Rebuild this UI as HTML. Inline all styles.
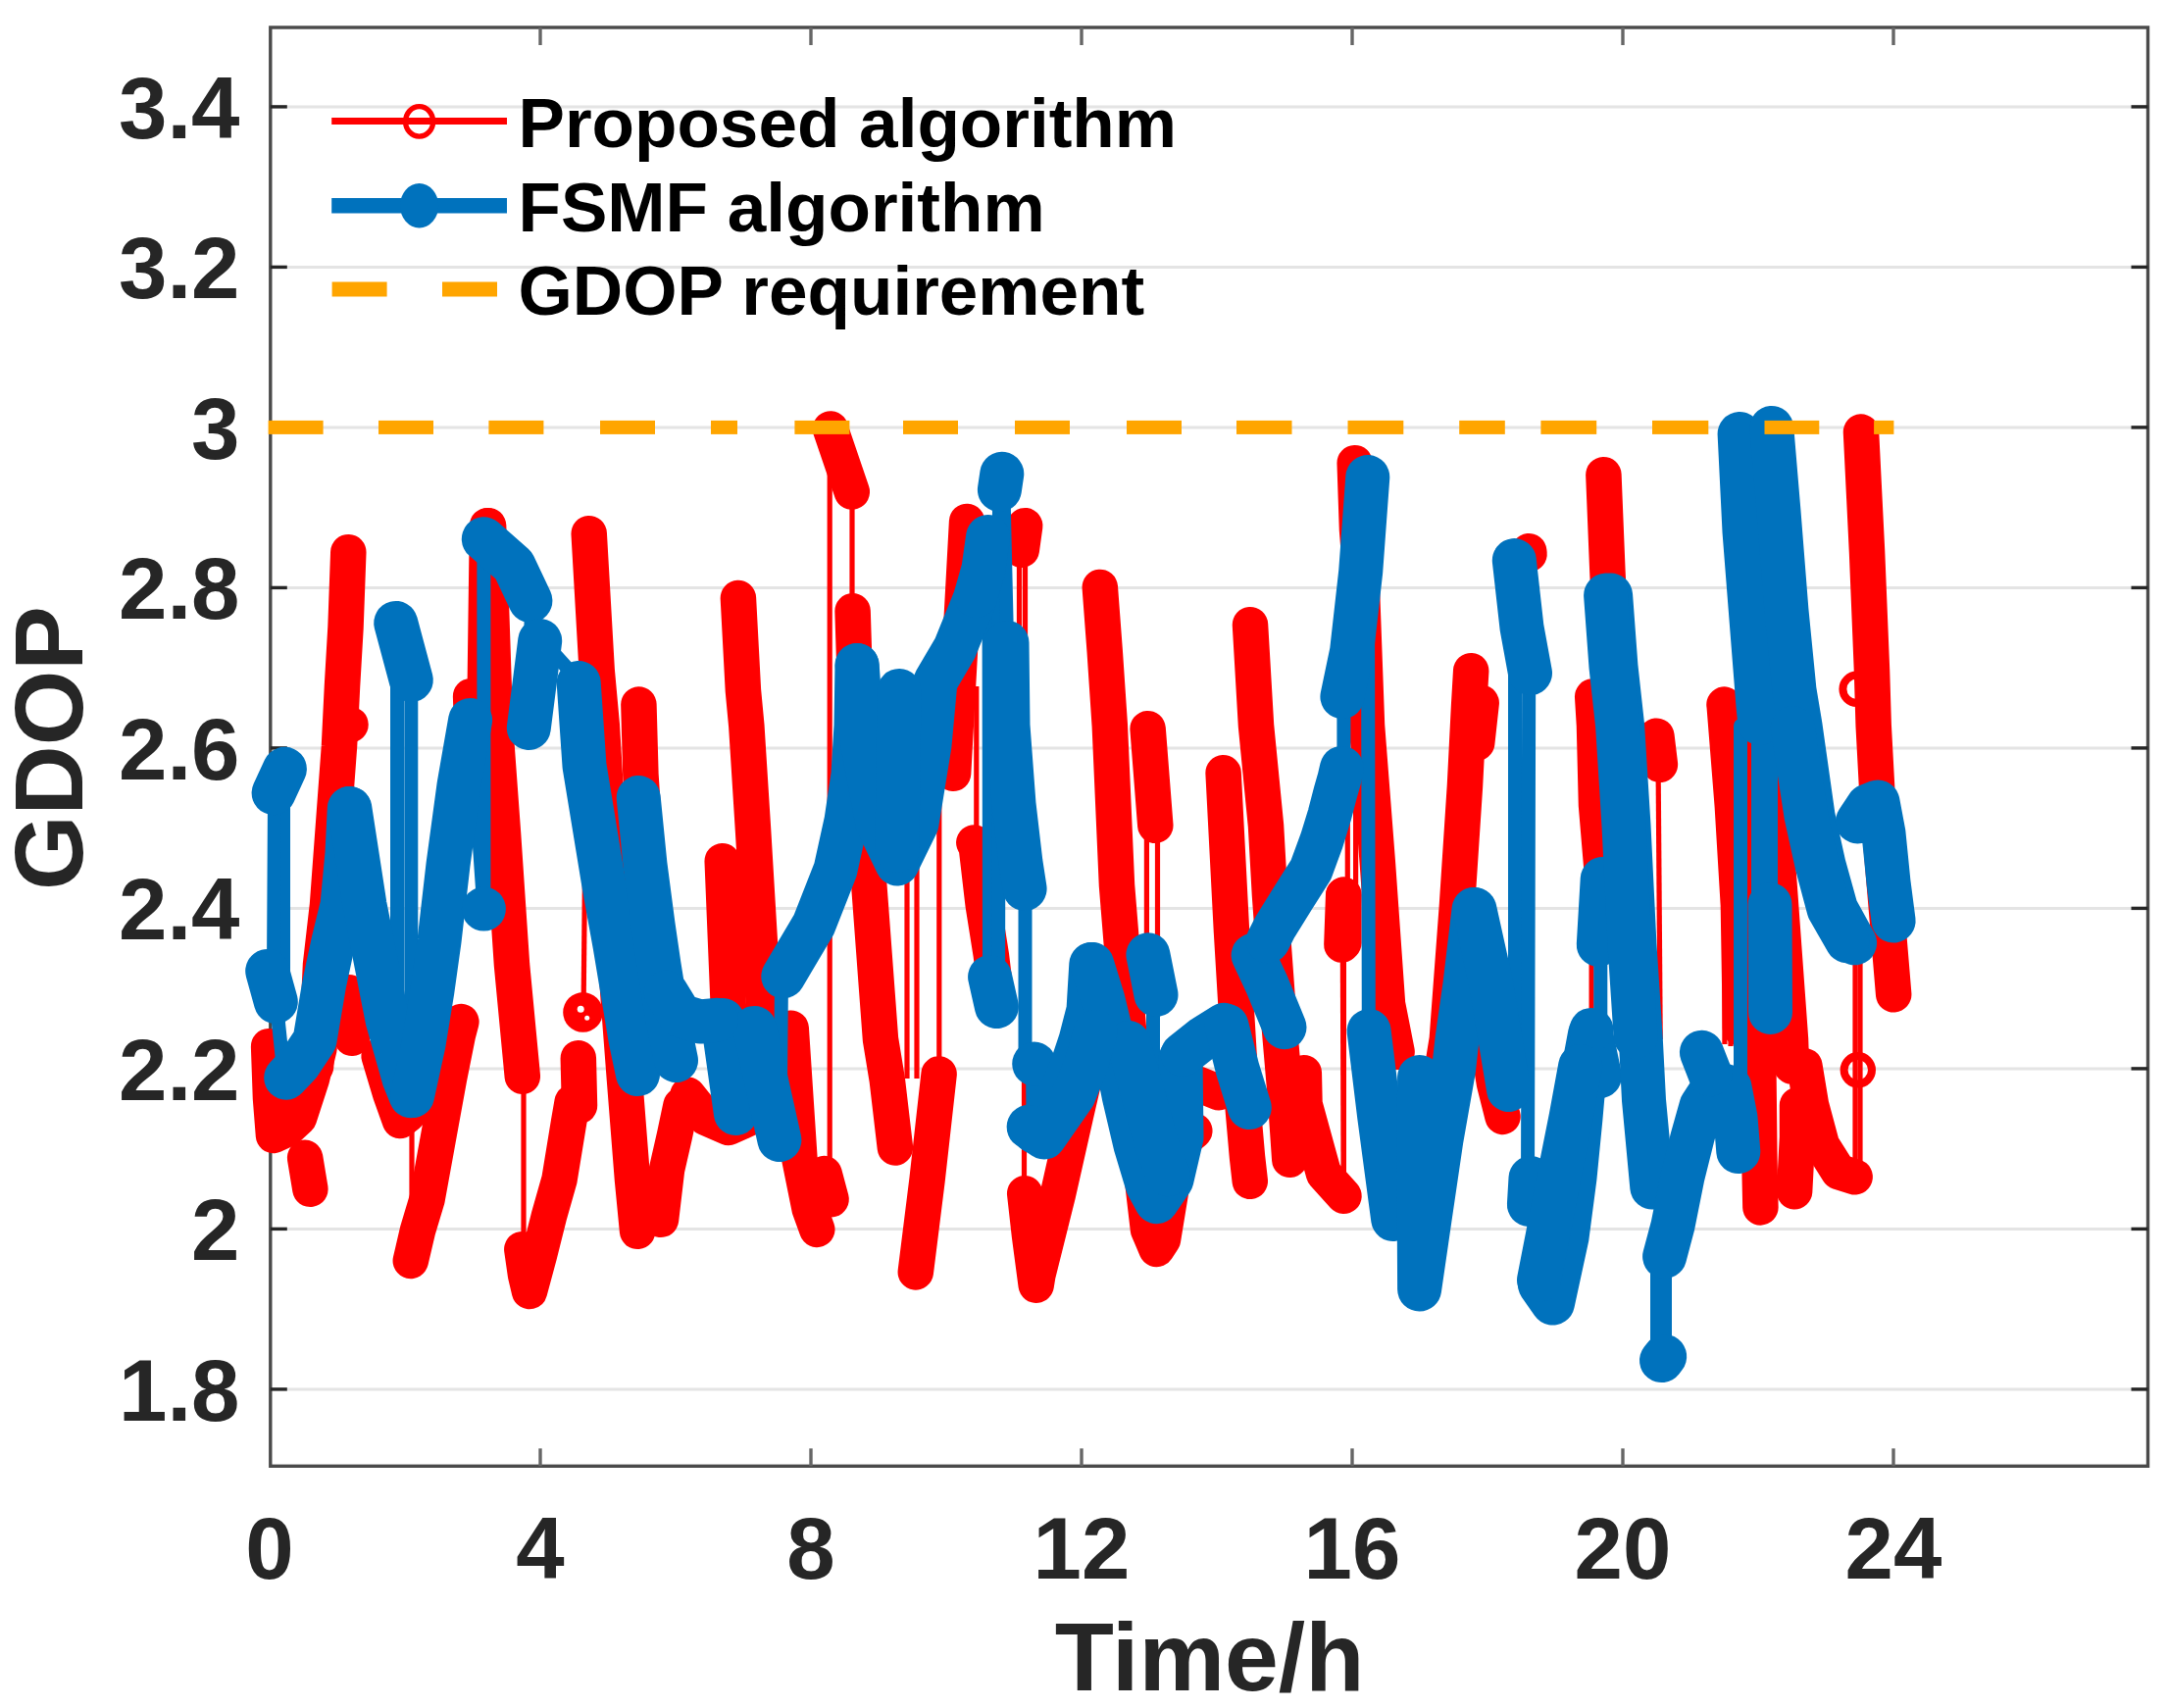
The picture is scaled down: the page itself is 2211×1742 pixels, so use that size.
<!DOCTYPE html><html><head><meta charset="utf-8"><title>GDOP</title><style>html,body{margin:0;padding:0;background:#fff}svg{display:block}text{font-family:"Liberation Sans",sans-serif;font-weight:bold}</style></head><body>
<svg width="2211" height="1742" viewBox="0 0 2211 1742">
<rect width="2211" height="1742" fill="#fff"/>
<line x1="275.8" x2="2190.5" y1="1416.9" y2="1416.9" stroke="#e4e4e4" stroke-width="3"/>
<line x1="275.8" x2="2190.5" y1="1253.4" y2="1253.4" stroke="#e4e4e4" stroke-width="3"/>
<line x1="275.8" x2="2190.5" y1="1089.9" y2="1089.9" stroke="#e4e4e4" stroke-width="3"/>
<line x1="275.8" x2="2190.5" y1="926.4" y2="926.4" stroke="#e4e4e4" stroke-width="3"/>
<line x1="275.8" x2="2190.5" y1="762.9" y2="762.9" stroke="#e4e4e4" stroke-width="3"/>
<line x1="275.8" x2="2190.5" y1="599.4" y2="599.4" stroke="#e4e4e4" stroke-width="3"/>
<line x1="275.8" x2="2190.5" y1="435.9" y2="435.9" stroke="#e4e4e4" stroke-width="3"/>
<line x1="275.8" x2="2190.5" y1="272.4" y2="272.4" stroke="#e4e4e4" stroke-width="3"/>
<line x1="275.8" x2="2190.5" y1="108.9" y2="108.9" stroke="#e4e4e4" stroke-width="3"/>
<g stroke="#4a4a4a" stroke-width="3.4" fill="none">
<rect x="275.8" y="28.0" width="1914.7" height="1467.3"/>
<line x1="551.0" x2="551.0" y1="1495.3" y2="1477.3" stroke="#666"/>
<line x1="551.0" x2="551.0" y1="28.0" y2="46.0" stroke="#666"/>
<line x1="827.0" x2="827.0" y1="1495.3" y2="1477.3" stroke="#666"/>
<line x1="827.0" x2="827.0" y1="28.0" y2="46.0" stroke="#666"/>
<line x1="1103.0" x2="1103.0" y1="1495.3" y2="1477.3" stroke="#666"/>
<line x1="1103.0" x2="1103.0" y1="28.0" y2="46.0" stroke="#666"/>
<line x1="1379.0" x2="1379.0" y1="1495.3" y2="1477.3" stroke="#666"/>
<line x1="1379.0" x2="1379.0" y1="28.0" y2="46.0" stroke="#666"/>
<line x1="1655.0" x2="1655.0" y1="1495.3" y2="1477.3" stroke="#666"/>
<line x1="1655.0" x2="1655.0" y1="28.0" y2="46.0" stroke="#666"/>
<line x1="1931.0" x2="1931.0" y1="1495.3" y2="1477.3" stroke="#666"/>
<line x1="1931.0" x2="1931.0" y1="28.0" y2="46.0" stroke="#666"/>
<line x1="275.8" x2="292.8" y1="1416.9" y2="1416.9" stroke="#262626"/>
<line x1="2190.5" x2="2173.5" y1="1416.9" y2="1416.9" stroke="#262626"/>
<line x1="275.8" x2="292.8" y1="1253.4" y2="1253.4" stroke="#262626"/>
<line x1="2190.5" x2="2173.5" y1="1253.4" y2="1253.4" stroke="#262626"/>
<line x1="275.8" x2="292.8" y1="1089.9" y2="1089.9" stroke="#262626"/>
<line x1="2190.5" x2="2173.5" y1="1089.9" y2="1089.9" stroke="#262626"/>
<line x1="275.8" x2="292.8" y1="926.4" y2="926.4" stroke="#262626"/>
<line x1="2190.5" x2="2173.5" y1="926.4" y2="926.4" stroke="#262626"/>
<line x1="275.8" x2="292.8" y1="762.9" y2="762.9" stroke="#262626"/>
<line x1="2190.5" x2="2173.5" y1="762.9" y2="762.9" stroke="#262626"/>
<line x1="275.8" x2="292.8" y1="599.4" y2="599.4" stroke="#262626"/>
<line x1="2190.5" x2="2173.5" y1="599.4" y2="599.4" stroke="#262626"/>
<line x1="275.8" x2="292.8" y1="435.9" y2="435.9" stroke="#262626"/>
<line x1="2190.5" x2="2173.5" y1="435.9" y2="435.9" stroke="#262626"/>
<line x1="275.8" x2="292.8" y1="272.4" y2="272.4" stroke="#262626"/>
<line x1="2190.5" x2="2173.5" y1="272.4" y2="272.4" stroke="#262626"/>
<line x1="275.8" x2="292.8" y1="108.9" y2="108.9" stroke="#262626"/>
<line x1="2190.5" x2="2173.5" y1="108.9" y2="108.9" stroke="#262626"/>
</g>
<g fill="none" stroke-linecap="round" stroke-linejoin="round">
<g stroke="#f00">
<polyline stroke-width="5.2" stroke-linecap="butt" points="534.0,1100.0 534.0,1272.0"/>
<polyline stroke-width="5.2" stroke-linecap="butt" points="420.0,1135.0 420.0,1288.0"/>
<polyline stroke-width="5.2" stroke-linecap="butt" points="595.0,1036.0 600.0,542.0"/>
<polyline stroke-width="5.2" stroke-linecap="butt" points="846.2,435.0 846.2,1195.0"/>
<polyline stroke-width="5.2" stroke-linecap="butt" points="869.0,503.0 869.0,621.0"/>
<polyline stroke-width="5.2" stroke-linecap="butt" points="925.0,700.0 925.0,1100.0"/>
<polyline stroke-width="5.2" stroke-linecap="butt" points="935.0,700.0 935.0,1100.0"/>
<polyline stroke-width="5.2" stroke-linecap="butt" points="957.8,700.0 957.8,1093.0"/>
<polyline stroke-width="5.2" stroke-linecap="butt" points="1039.5,563.0 1039.5,860.0"/>
<polyline stroke-width="5.2" stroke-linecap="butt" points="1045.5,534.0 1045.5,900.0"/>
<polyline stroke-width="5.2" stroke-linecap="butt" points="995.8,700.0 995.8,858.0"/>
<polyline stroke-width="5.2" stroke-linecap="butt" points="1044.5,1085.0 1044.5,1215.0"/>
<polyline stroke-width="5.2" stroke-linecap="butt" points="1169.4,844.0 1169.4,975.0"/>
<polyline stroke-width="5.2" stroke-linecap="butt" points="1180.5,844.0 1180.5,975.0"/>
<polyline stroke-width="5.2" stroke-linecap="butt" points="1369.3,966.0 1370.3,1215.0"/>
<polyline stroke-width="5.2" stroke-linecap="butt" points="1374.3,700.0 1374.3,910.0"/>
<polyline stroke-width="5.2" stroke-linecap="butt" points="1370.4,964.0 1370.4,1215.0"/>
<polyline stroke-width="5.2" stroke-linecap="butt" points="1382.6,700.0 1382.6,910.0"/>
<polyline stroke-width="5.2" stroke-linecap="butt" points="1623.1,966.0 1623.1,1050.0"/>
<polyline stroke-width="5.2" stroke-linecap="butt" points="1691.1,782.0 1693.2,1060.0"/>
<polyline stroke-width="5.2" stroke-linecap="butt" points="1758.9,1000.0 1758.9,1065.0"/>
<polyline stroke-width="5.2" stroke-linecap="butt" points="1765.0,1000.0 1765.0,1067.0"/>
<polyline stroke-width="5.2" stroke-linecap="butt" points="1892.0,960.0 1892.0,1200.0"/>
<polyline stroke-width="5.2" stroke-linecap="butt" points="1897.0,960.0 1897.0,1195.0"/>
<polyline stroke-width="36.5" points="274.1,1067.2 276.0,1120.0 279.0,1158.0 292.0,1152.0 305.0,1140.0 318.0,1100.0 325.5,1069.1"/>
<polyline stroke-width="36.5" points="311.1,1180.8 316.4,1212.8"/>
<polyline stroke-width="36.5" points="322.1,1087.8 327.0,984.0 334.0,923.0 340.0,842.0 346.0,761.0 349.0,700.0 352.5,640.0 355.3,563.2"/>
<polyline stroke-width="36.5" points="357.5,739.0 357.5,739.1"/>
<polyline stroke-width="36.5" points="356.1,1012.2 358.9,1058.8"/>
<polyline stroke-width="36.5" points="386.6,1077.1 398.0,1115.0 408.0,1143.0 416.3,1136.4"/>
<polyline stroke-width="36.5" points="418.8,1285.9 426.0,1255.0 435.6,1223.0 446.7,1162.0 458.0,1100.0 467.0,1055.0 470.4,1042.1"/>
<polyline stroke-width="36.5" points="480.1,710.2 481.9,757.8"/>
<polyline stroke-width="36.5" points="494.0,757.8 497.0,536.2"/>
<polyline stroke-width="36.5" points="498.1,536.2 501.0,620.0 505.0,740.0 513.0,850.0 522.0,984.0 532.8,1097.8"/>
<polyline stroke-width="36.5" points="532.3,1274.2 536.0,1300.0 540.0,1317.0 550.0,1280.0 560.0,1240.0 570.5,1203.0 580.0,1145.0 583.6,1124.2"/>
<polyline stroke-width="36.5" points="589.8,1079.2 591.0,1127.8"/>
<polyline stroke-width="36.5" points="600.7,544.2 608.7,684.0 613.8,740.0 622.0,880.0 630.8,1020.0 637.0,1101.0 645.0,1203.0 650.1,1255.8"/>
<polyline stroke-width="36.5" points="651.4,718.6 653.4,790.0 657.9,857.8"/>
<polyline stroke-width="36.5" points="674.0,1243.8 680.0,1193.0 688.0,1158.0 694.5,1127.2"/>
<polyline stroke-width="36.5" points="701.4,1116.7 720.0,1140.0 743.0,1150.0 765.0,1140.0 774.0,1122.0"/>
<polyline stroke-width="36.5" points="736.7,878.2 742.7,1024.0 747.9,1117.8"/>
<polyline stroke-width="36.5" points="752.9,610.0 757.9,704.0 761.3,740.0 768.0,846.0 775.0,963.0 780.9,1057.8"/>
<polyline stroke-width="36.5" points="806.7,1048.7 815.5,1182.7 825.7,1233.0 833.3,1253.9"/>
<polyline stroke-width="36.5" points="840.6,1197.1 847.6,1223.2"/>
<polyline stroke-width="36.5" points="846.9,437.4 868.8,501.6"/>
<polyline stroke-width="36.5" points="869.6,623.2 872.6,720.0 887.8,923.0 898.0,1060.0 904.8,1101.5 912.9,1170.5"/>
<polyline stroke-width="36.5" points="933.8,1297.4 945.6,1203.0 957.6,1095.4"/>
<polyline stroke-width="36.5" points="972.1,788.8 986.1,531.9"/>
<polyline stroke-width="36.5" points="1041.8,560.8 1045.2,536.2"/>
<polyline stroke-width="36.5" points="993.3,859.4 995.6,862.0 1002.7,923.0 1010.8,974.0 1013.7,997.8"/>
<polyline stroke-width="36.5" points="1045.2,1217.2 1050.0,1260.0 1056.7,1310.7 1058.3,1300.6 1078.6,1219.4 1096.9,1138.2 1107.5,1092.1"/>
<polyline stroke-width="36.5" points="1121.8,598.9 1126.7,664.0 1131.8,740.0 1139.0,903.0 1155.0,1100.0 1165.0,1203.0 1171.0,1254.0 1179.5,1274.0 1186.0,1264.0 1196.0,1203.0 1208.0,1162.0 1218.3,1153.4"/>
<polyline stroke-width="36.5" points="1170.6,743.2 1178.3,841.8"/>
<polyline stroke-width="36.5" points="1222.0,1105.8 1243.0,1114.2"/>
<polyline stroke-width="36.5" points="1247.6,788.2 1256.0,950.0 1265.0,1100.0 1272.0,1180.0 1274.8,1204.8"/>
<polyline stroke-width="36.5" points="1275.0,637.2 1281.0,740.0 1291.0,842.0 1295.0,913.0 1305.0,1050.0 1311.0,1120.0 1315.3,1182.8"/>
<polyline stroke-width="36.5" points="1329.8,1094.2 1330.5,1126.0 1350.0,1197.0 1370.5,1219.8"/>
<polyline stroke-width="36.5" points="1370.2,912.8 1368.4,963.6"/>
<polyline stroke-width="36.5" points="1381.7,472.2 1384.0,540.0 1389.0,603.0 1394.0,740.0 1405.0,882.0 1415.0,1024.0 1424.6,1072.8"/>
<polyline stroke-width="36.5" points="1370.4,912.8 1370.4,961.6"/>
<polyline stroke-width="36.5" points="1466.4,1117.8 1475.8,1060.0 1486.0,923.0 1494.0,801.0 1498.1,720.0 1500.2,684.2"/>
<polyline stroke-width="36.5" points="1510.7,716.8 1506.2,757.8"/>
<polyline stroke-width="36.5" points="1559.2,562.2 1559.5,565.0"/>
<polyline stroke-width="36.5" points="1515.4,1052.2 1524.0,1105.0 1532.5,1138.9"/>
<polyline stroke-width="36.5" points="1635.4,484.2 1639.4,583.0 1644.9,697.8"/>
<polyline stroke-width="36.5" points="1624.2,710.5 1626.0,740.0 1628.0,821.0 1633.8,889.8"/>
<polyline stroke-width="36.5" points="1689.4,750.7 1692.9,779.8"/>
<polyline stroke-width="36.5" points="1758.5,718.6 1758.7,720.0 1766.8,821.5 1772.9,923.0 1775.0,1048.8"/>
<polyline stroke-width="36.5" points="1797.0,737.2 1796.0,900.0 1793.0,1061.0 1794.4,1183.0 1795.4,1231.4"/>
<polyline stroke-width="36.5" points="1800.2,702.2 1805.7,781.0 1826.0,1060.0 1826.9,1087.3"/>
<polyline stroke-width="36.5" points="1833.0,1127.2 1833.0,1160.0 1830.1,1215.2"/>
<polyline stroke-width="36.5" points="1840.4,1087.2 1847.0,1127.0 1858.0,1168.0 1875.0,1195.0 1891.7,1200.3"/>
<polyline stroke-width="36.5" points="1898.0,440.6 1904.0,562.0 1909.0,684.0 1910.7,740.0 1915.0,820.0 1925.0,940.0 1931.2,1014.3"/>
</g>
<circle cx="1893.6" cy="702.8" r="14.2" stroke="#f00" stroke-width="8" fill="none"/>
<circle cx="1894.8" cy="1091.3" r="14.2" stroke="#f00" stroke-width="8" fill="none"/>
<circle cx="594.5" cy="1032.4" r="20.3" fill="#f00"/>
<circle cx="592.2" cy="1029.3" r="3.5" fill="#fff"/>
<circle cx="598.7" cy="1038.2" r="2.5" fill="#fff"/>
<g stroke="#0072bd">
<polyline stroke-width="14" points="289.0,811.0 289.0,990.0"/>
<polyline stroke-width="14" points="280.0,811.0 279.0,990.0"/>
<polyline stroke-width="14" points="282.0,1024.0 290.0,1101.0"/>
<polyline stroke-width="14" points="405.0,640.0 405.0,1110.0"/>
<polyline stroke-width="14" points="419.3,696.0 419.3,1120.0"/>
<polyline stroke-width="14" points="480.0,732.0 493.4,927.0 493.4,548.0"/>
<polyline stroke-width="14" points="795.4,1165.0 797.0,998.0"/>
<polyline stroke-width="14" points="651.0,1098.0 651.0,811.0"/>
<polyline stroke-width="14" points="1008.5,545.0 1009.0,994.0"/>
<polyline stroke-width="14" points="1018.0,1029.0 1019.0,502.0"/>
<polyline stroke-width="14" points="1023.0,481.0 1027.0,653.0"/>
<polyline stroke-width="14" points="1045.5,909.0 1045.5,1085.0 1053.0,1085.0 1053.7,1156.0"/>
<polyline stroke-width="14" points="1176.0,1017.0 1176.0,1090.0"/>
<polyline stroke-width="14" points="1370.4,713.0 1370.4,780.0"/>
<polyline stroke-width="14" points="1394.8,484.0 1395.8,1049.0"/>
<polyline stroke-width="14" points="1545.0,689.0 1545.0,1114.0"/>
<polyline stroke-width="14" points="1559.2,689.0 1558.0,1215.0"/>
<polyline stroke-width="14" points="1632.3,966.0 1632.3,1040.0 1623.0,1050.0"/>
<polyline stroke-width="14" points="1690.0,1284.0 1690.0,1385.0"/>
<polyline stroke-width="14" points="1698.0,1284.0 1698.0,1385.0"/>
<polyline stroke-width="14" points="1775.0,740.0 1775.0,1108.0"/>
<polyline stroke-width="14" points="1793.0,740.0 1793.0,920.0"/>
<polyline stroke-width="14" points="1806.0,740.0 1806.0,920.0"/>
<polyline stroke-width="14" points="551.0,651.0 590.0,694.0"/>
<polyline stroke-width="14" points="542.0,615.0 539.0,745.0"/>
<polyline stroke-width="45" points="272.7,990.4 281.3,1021.6"/>
<polyline stroke-width="45" points="279.1,808.7 290.4,784.3"/>
<polyline stroke-width="45" points="291.7,1099.2 305.0,1085.0 321.0,1061.0 330.6,1004.0 340.0,960.0 349.0,923.0 354.0,870.0 356.3,824.5"/>
<polyline stroke-width="45" points="356.8,824.5 372.0,923.0 395.0,1040.0 412.0,1100.0 419.1,1117.7"/>
<polyline stroke-width="45" points="403.7,635.4 419.3,693.6"/>
<polyline stroke-width="45" points="420.5,1117.6 432.0,1065.0 441.0,1010.0 448.0,960.0 457.0,882.0 468.0,801.0 479.6,734.5"/>
<polyline stroke-width="45" points="493.4,927.0 493.4,927.1"/>
<polyline stroke-width="45" points="493.3,549.7 523.9,576.6 540.9,612.7"/>
<polyline stroke-width="45" points="539.3,742.5 550.7,653.5"/>
<polyline stroke-width="45" points="590.2,696.5 596.0,781.0 606.0,842.0 616.0,903.0 627.0,964.0 637.0,1024.0 643.0,1060.0 650.5,1095.6"/>
<polyline stroke-width="45" points="651.2,813.5 658.0,882.0 666.0,943.0 672.0,984.0 681.0,1040.0 689.5,1081.6"/>
<polyline stroke-width="45" points="737.0,1040.5 750.4,1135.5"/>
<polyline stroke-width="45" points="769.5,1048.4 794.9,1162.6"/>
<polyline stroke-width="45" points="798.8,995.8 830.0,943.0 852.0,887.0 863.0,837.0 870.0,790.0 873.0,740.0 874.0,678.5"/>
<polyline stroke-width="45" points="874.2,678.5 880.0,760.0 895.0,840.0 915.0,881.0 935.0,840.0 948.0,760.0 954.0,695.0 974.0,661.0 993.6,612.3"/>
<polyline stroke-width="45" points="917.0,704.5 915.0,867.5"/>
<polyline stroke-width="45" points="995.2,607.6 1003.0,580.0 1007.6,547.5"/>
<polyline stroke-width="45" points="1019.4,499.5 1021.8,483.3"/>
<polyline stroke-width="45" points="1027.0,655.5 1028.0,740.0 1034.0,820.0 1041.0,880.0 1045.1,906.5"/>
<polyline stroke-width="45" points="1009.6,996.4 1016.4,1026.6"/>
<polyline stroke-width="45" points="1054.7,1085.0 1054.7,1085.1"/>
<polyline stroke-width="45" points="1055.1,1153.9 1068.0,1135.0 1082.0,1114.0 1093.0,1088.0 1102.0,1061.0 1110.0,1030.0 1112.8,983.5"/>
<polyline stroke-width="45" points="1113.7,983.4 1125.0,1020.0 1135.0,1061.0 1146.0,1117.0 1158.0,1168.0 1170.0,1208.0 1179.5,1225.7 1195.0,1203.0 1205.0,1160.0 1204.0,1079.5"/>
<polyline stroke-width="45" points="1170.9,973.8 1179.0,1014.5"/>
<polyline stroke-width="45" points="1206.0,1075.4 1228.0,1058.0 1248.4,1045.3"/>
<polyline stroke-width="45" points="1251.1,1046.4 1262.0,1090.0 1274.3,1129.6"/>
<polyline stroke-width="45" points="1278.1,974.3 1292.0,1004.0 1310.0,1047.7"/>
<polyline stroke-width="45" points="1293.1,959.8 1300.0,946.0 1318.0,917.0 1337.0,887.0 1348.0,857.0 1356.0,831.0 1362.0,808.0 1366.0,794.0 1368.4,783.4"/>
<polyline stroke-width="45" points="1368.9,710.6 1378.6,664.0 1387.7,583.0 1394.8,486.5"/>
<polyline stroke-width="45" points="1396.1,1051.5 1406.6,1138.0 1420.7,1243.5"/>
<polyline stroke-width="45" points="1447.6,1098.5 1447.0,1200.0 1447.6,1315.0 1458.0,1243.6 1470.0,1162.0 1482.5,1091.0 1486.0,1060.0 1494.0,1004.0 1503.1,927.5"/>
<polyline stroke-width="45" points="1503.9,927.4 1520.0,1000.0 1538.6,1111.5"/>
<polyline stroke-width="45" points="1544.3,571.5 1552.0,640.0 1560.5,686.5"/>
<polyline stroke-width="45" points="1561.0,1201.5 1559.4,1228.5"/>
<polyline stroke-width="45" points="1570.4,1310.1 1583.5,1329.0 1598.0,1262.0 1606.0,1201.0 1612.0,1140.0 1617.7,1075.0 1621.5,1054.5"/>
<polyline stroke-width="45" points="1622.5,1054.4 1631.5,1097.6"/>
<polyline stroke-width="45" points="1642.6,607.1 1648.0,680.0 1654.6,740.0 1661.0,842.0 1667.0,964.0 1673.3,1060.0 1676.5,1122.0 1684.8,1211.0"/>
<polyline stroke-width="45" points="1634.2,896.5 1630.3,963.5"/>
<polyline stroke-width="45" points="1623.0,1050.4 1623.0,1050.5"/>
<polyline stroke-width="45" points="1697.6,1281.6 1706.0,1250.0 1716.0,1200.0 1726.0,1160.0 1735.0,1128.0 1750.0,1105.0 1764.0,1109.0 1770.0,1140.0 1772.8,1174.5"/>
<polyline stroke-width="45" points="1735.4,1073.3 1744.1,1095.7"/>
<polyline stroke-width="45" points="1694.5,1387.6 1697.7,1383.5"/>
<polyline stroke-width="45" points="1774.1,442.5 1779.0,542.0 1787.0,644.0 1793.0,720.0 1794.8,737.5"/>
<polyline stroke-width="45" points="1806.8,436.5 1814.0,522.0 1822.0,623.0 1830.0,704.0 1836.0,740.0 1849.0,832.0 1860.0,882.0 1872.5,927.0 1891.6,961.8"/>
<polyline stroke-width="45" points="1805.0,922.5 1805.5,1032.5"/>
<polyline stroke-width="45" points="1894.4,837.9 1905.0,822.0 1915.0,818.0 1921.0,850.0 1926.0,900.0 1931.1,939.1"/>
<polyline stroke-width="45" points="1150.7,1063.4 1166.0,1117.0 1180.0,1168.0 1191.1,1197.7"/>
<polyline stroke-width="45" points="1049.1,1149.4 1065.0,1160.0 1095.0,1117.0 1108.0,1085.0 1117.3,1052.4"/>
<polyline stroke-width="45" points="1637.6,607.1 1643.0,680.0 1649.6,740.0 1656.0,842.0 1662.0,964.0 1668.1,1057.5"/>
<polyline stroke-width="45" points="1569.5,1305.5 1578.0,1262.0 1590.0,1200.0 1602.0,1140.0 1611.6,1087.5"/>
<polyline stroke-width="45" points="1828.4,742.5 1842.0,832.0 1853.0,882.0 1865.0,927.0 1883.8,959.8"/>
<polyline stroke-width="45" points="679.3,1012.1 694.0,1036.0 714.0,1042.0 730.5,1040.3"/>
</g>
</g>
<rect x="273.6" y="428.9" width="56.0" height="14" fill="#ffa500"/>
<rect x="386.0" y="428.9" width="56.0" height="14" fill="#ffa500"/>
<rect x="498.4" y="428.9" width="56.0" height="14" fill="#ffa500"/>
<rect x="612.0" y="428.9" width="56.0" height="14" fill="#ffa500"/>
<rect x="725.0" y="428.9" width="27.0" height="14" fill="#ffa500"/>
<rect x="810.4" y="428.9" width="56.0" height="14" fill="#ffa500"/>
<rect x="921.0" y="428.9" width="56.0" height="14" fill="#ffa500"/>
<rect x="1035.0" y="428.9" width="56.0" height="14" fill="#ffa500"/>
<rect x="1149.0" y="428.9" width="56.0" height="14" fill="#ffa500"/>
<rect x="1261.0" y="428.9" width="56.5" height="14" fill="#ffa500"/>
<rect x="1374.5" y="428.9" width="56.8" height="14" fill="#ffa500"/>
<rect x="1488.2" y="428.9" width="46.6" height="14" fill="#ffa500"/>
<rect x="1571.4" y="428.9" width="56.8" height="14" fill="#ffa500"/>
<rect x="1685.0" y="428.9" width="57.3" height="14" fill="#ffa500"/>
<rect x="1799.5" y="428.9" width="55.8" height="14" fill="#ffa500"/>
<rect x="1911.1" y="428.9" width="20.3" height="14" fill="#ffa500"/>
<g fill="#262626" font-size="88.8">
<text x="275.0" y="1609.5" text-anchor="middle">0</text>
<text x="551.0" y="1609.5" text-anchor="middle">4</text>
<text x="827.0" y="1609.5" text-anchor="middle">8</text>
<text x="1103.0" y="1609.5" text-anchor="middle">12</text>
<text x="1379.0" y="1609.5" text-anchor="middle">16</text>
<text x="1655.0" y="1609.5" text-anchor="middle">20</text>
<text x="1931.0" y="1609.5" text-anchor="middle">24</text>
<text x="244.5" y="1448.9" text-anchor="end">1.8</text>
<text x="244.5" y="1285.4" text-anchor="end">2</text>
<text x="244.5" y="1121.9" text-anchor="end">2.2</text>
<text x="244.5" y="958.4" text-anchor="end">2.4</text>
<text x="244.5" y="794.9" text-anchor="end">2.6</text>
<text x="244.5" y="631.4" text-anchor="end">2.8</text>
<text x="244.5" y="467.9" text-anchor="end">3</text>
<text x="244.5" y="304.4" text-anchor="end">3.2</text>
<text x="244.5" y="140.9" text-anchor="end">3.4</text>
</g>
<text x="1233.5" y="1723.6" text-anchor="middle" font-size="98.5" fill="#262626">Time/h</text>
<text transform="translate(84.0,763.0) rotate(-90)" text-anchor="middle" font-size="98.5" fill="#262626">GDOP</text>
<g>
<line x1="338.2" x2="517" y1="123.6" y2="123.6" stroke="#f00" stroke-width="7"/>
<ellipse cx="427.6" cy="123.9" rx="14" ry="15.2" stroke="#f00" stroke-width="5.3" fill="none"/>
<line x1="338.2" x2="517" y1="209.7" y2="209.7" stroke="#0072bd" stroke-width="15.5"/>
<ellipse cx="427.6" cy="209.7" rx="19.6" ry="22.7" fill="#0072bd"/>
<rect x="338.6" y="287.5" width="56" height="15" fill="#ffa500"/>
<rect x="451" y="287.5" width="56" height="15" fill="#ffa500"/>
<g font-size="71.1" fill="#000">
<text x="528.5" y="149.6">Proposed algorithm</text>
<text x="528.5" y="235.7">FSMF algorithm</text>
<text x="528.5" y="321.3">GDOP requirement</text>
</g></g>
</svg></body></html>
